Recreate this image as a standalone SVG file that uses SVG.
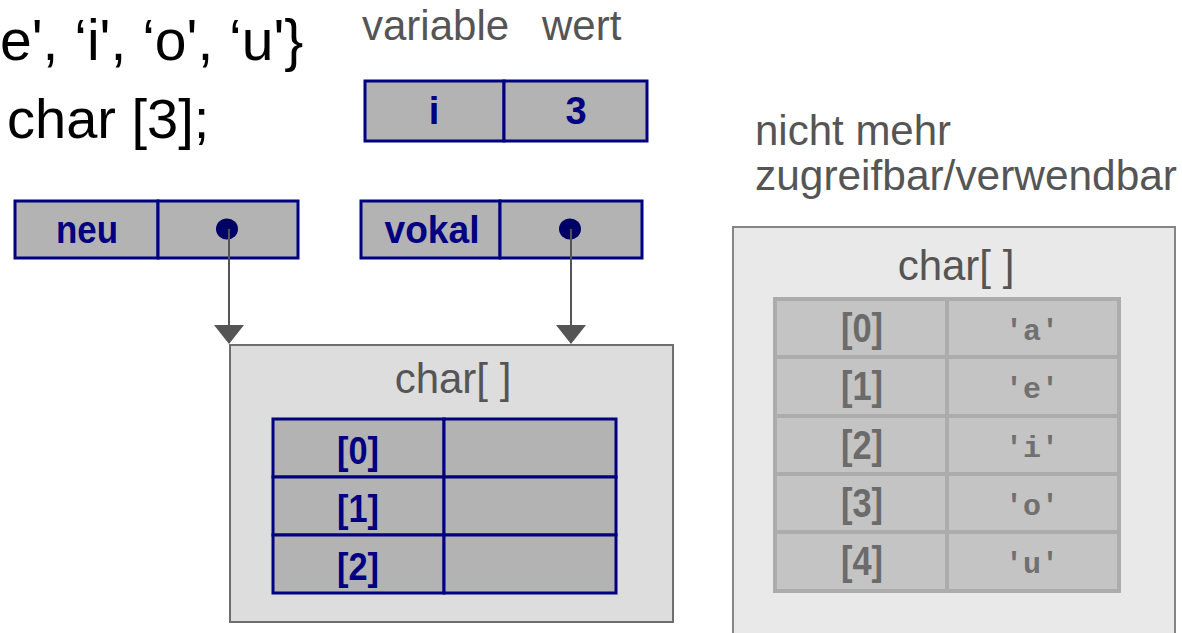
<svg xmlns="http://www.w3.org/2000/svg" width="1182" height="633" viewBox="0 0 1182 633">
<style>
.code{font-family:"Liberation Sans",Arial,sans-serif;fill:#000}
.lbl{font-family:"Liberation Sans",Arial,sans-serif;fill:#555;font-size:42px}
.cell{fill:#b3b3b3;stroke:#000080;stroke-width:3}
.nv{font-family:"Liberation Sans",Arial,sans-serif;font-weight:bold;fill:#000080;font-size:38px;text-anchor:middle}
.gcell{fill:#c4c4c4;stroke:#acacac;stroke-width:4}
.gt{font-family:"Liberation Sans",Arial,sans-serif;font-weight:bold;fill:#6b6b6b;font-size:40px;text-anchor:middle}
.gm{font-family:"Liberation Mono","Courier New",monospace;font-weight:bold;fill:#707070;font-size:30px;text-anchor:middle}
.conn{stroke:#555;stroke-width:2;fill:none}
</style>
<rect width="1182" height="633" fill="#fff"/>
<g id="code">
<text class="code" x="0" y="60" font-size="57">e', ‘i', ‘o', ‘u'}</text>
<text class="code" x="7" y="138" font-size="56">char [3];</text>
</g>
<g id="header">
<text class="lbl" x="362" y="40">variable</text>
<text class="lbl" x="542" y="40">wert</text>
</g>
<g id="var-i">
<rect class="cell" x="365" y="81" width="139" height="60"/>
<rect class="cell" x="504" y="81" width="143" height="60"/>
<text class="nv" x="434" y="124">i</text>
<text class="nv" x="576" y="124">3</text>
</g>
<g id="var-neu">
<rect class="cell" x="15" y="201" width="143" height="57"/>
<rect class="cell" x="158" y="201" width="140" height="57"/>
<text class="nv" x="87" y="243" textLength="62" lengthAdjust="spacingAndGlyphs">neu</text>
<ellipse cx="227" cy="229" rx="11" ry="10.5" fill="#000066"/>
</g>
<g id="var-vokal">
<rect class="cell" x="361" y="201" width="139" height="57"/>
<rect class="cell" x="500" y="201" width="142" height="57"/>
<text class="nv" x="432" y="243" textLength="95" lengthAdjust="spacingAndGlyphs">vokal</text>
<ellipse cx="570" cy="229" rx="11" ry="10.5" fill="#000066"/>
</g>
<g id="array-new">
<rect x="230" y="345" width="443" height="277" fill="#dddddd" stroke="#6e6e6e" stroke-width="2"/>
<text class="lbl" x="453" y="393" text-anchor="middle">char[ ]</text>
<rect class="cell" x="273" y="419" width="171" height="58"/>
<rect class="cell" x="444" y="419" width="172" height="58"/>
<rect class="cell" x="273" y="477" width="171" height="58"/>
<rect class="cell" x="444" y="477" width="172" height="58"/>
<rect class="cell" x="273" y="535" width="171" height="58"/>
<rect class="cell" x="444" y="535" width="172" height="58"/>
<text class="nv" x="358" y="464" font-size="40" textLength="42" lengthAdjust="spacingAndGlyphs">[0]</text>
<text class="nv" x="358" y="522" font-size="40" textLength="42" lengthAdjust="spacingAndGlyphs">[1]</text>
<text class="nv" x="358" y="580" font-size="40" textLength="42" lengthAdjust="spacingAndGlyphs">[2]</text>
</g>
<g id="connectors">
<line class="conn" x1="229" y1="229" x2="229" y2="327"/>
<polygon points="214,325 244,325 229,344" fill="#555"/>
<line class="conn" x1="571" y1="229" x2="571" y2="327"/>
<polygon points="556,325 586,325 571,344" fill="#555"/>
</g>
<g id="array-old">
<text class="lbl" x="755" y="145" fill="#444">nicht mehr</text>
<text class="lbl" x="755" y="190" fill="#444" textLength="422" lengthAdjust="spacingAndGlyphs">zugreifbar/verwendbar</text>
<rect x="733" y="227" width="442" height="420" fill="#e9e9e9" stroke="#858585" stroke-width="2"/>
<text class="lbl" x="956" y="280" text-anchor="middle">char[ ]</text>
<rect class="gcell" x="775" y="299" width="172" height="58"/>
<rect class="gcell" x="947" y="299" width="172" height="58"/>
<rect class="gcell" x="775" y="357" width="172" height="59"/>
<rect class="gcell" x="947" y="357" width="172" height="59"/>
<rect class="gcell" x="775" y="416" width="172" height="58"/>
<rect class="gcell" x="947" y="416" width="172" height="58"/>
<rect class="gcell" x="775" y="474" width="172" height="58"/>
<rect class="gcell" x="947" y="474" width="172" height="58"/>
<rect class="gcell" x="775" y="532" width="172" height="59"/>
<rect class="gcell" x="947" y="532" width="172" height="59"/>
<text class="gt" x="862" y="342" textLength="42" lengthAdjust="spacingAndGlyphs">[0]</text>
<text class="gt" x="862" y="400" textLength="42" lengthAdjust="spacingAndGlyphs">[1]</text>
<text class="gt" x="862" y="459" textLength="42" lengthAdjust="spacingAndGlyphs">[2]</text>
<text class="gt" x="862" y="517" textLength="42" lengthAdjust="spacingAndGlyphs">[3]</text>
<text class="gt" x="862" y="575" textLength="42" lengthAdjust="spacingAndGlyphs">[4]</text>
<text class="gm" x="1032" y="340">'a'</text>
<text class="gm" x="1032" y="398">'e'</text>
<text class="gm" x="1032" y="457">'i'</text>
<text class="gm" x="1032" y="515">'o'</text>
<text class="gm" x="1032" y="573">'u'</text>
</g>
</svg>
